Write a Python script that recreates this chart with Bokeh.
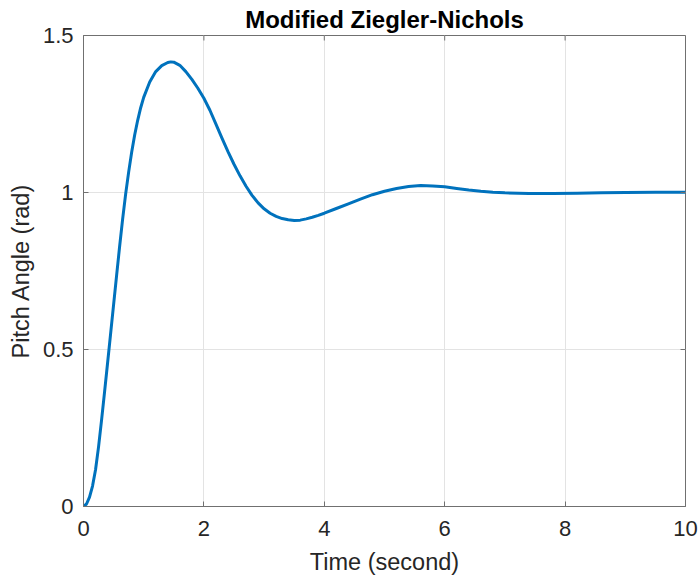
from bokeh.plotting import figure
from bokeh.models import Range1d, FixedTicker, NumeralTickFormatter
from bokeh.embed import file_html
from bokeh.resources import INLINE

# Step response
time_s = [0.00, 0.05, 0.10, 0.15, 0.20, 0.25, 0.30, 0.35, 0.40, 0.45,
          0.50, 0.55, 0.60, 0.65, 0.70, 0.75, 0.80, 0.85, 0.90, 0.95,
          1.00, 1.10, 1.20, 1.30, 1.40, 1.45, 1.50, 1.60, 1.70, 1.80,
          1.90, 2.00, 2.10, 2.20, 2.30, 2.40, 2.50, 2.60, 2.70, 2.80,
          2.90, 3.00, 3.10, 3.20, 3.30, 3.40, 3.50, 3.60, 3.70, 3.80,
          3.90, 4.00, 4.20, 4.40, 4.60, 4.80, 5.00, 5.20, 5.40, 5.60,
          5.80, 6.00, 6.20, 6.40, 6.60, 6.80, 7.00, 7.40, 7.80, 8.20,
          8.60, 9.00, 9.50, 10.0]
pitch_rad = [0.000, 0.008, 0.030, 0.065, 0.117, 0.190, 0.275, 0.365, 0.457, 0.550,
             0.643, 0.736, 0.828, 0.915, 0.995, 1.065, 1.128, 1.183, 1.230, 1.270,
             1.303, 1.352, 1.385, 1.404, 1.414, 1.416, 1.415, 1.405, 1.385, 1.360,
             1.332, 1.300, 1.262, 1.218, 1.173, 1.130, 1.090, 1.053, 1.020, 0.991,
             0.967, 0.948, 0.934, 0.924, 0.917, 0.913, 0.911, 0.912, 0.916, 0.921,
             0.927, 0.934, 0.949, 0.964, 0.979, 0.993, 1.004, 1.013, 1.019, 1.022,
             1.021, 1.018, 1.013, 1.008, 1.004, 1.001, 0.999, 0.997, 0.997, 0.998,
             0.999, 1.000, 1.001, 1.001]

x_ticks = [0, 2, 4, 6, 8, 10]
y_ticks = [0, 0.5, 1, 1.5]
x_lim = (0, 10)
y_lim = (0, 1.5)

FONT = "Liberation Sans"
AX_COL = "#707070"
TXT_COL = "#262626"

W, H = 699, 577
ML, MR, MT, MB = 83, 14, 35, 71
TICK_PX = 5

p = figure(width=W, height=H, output_backend="svg", toolbar_location=None,
           x_range=Range1d(*x_lim), y_range=Range1d(*y_lim),
           title="Modified Ziegler-Nichols",
           min_border_left=ML, min_border_right=MR, min_border_top=MT, min_border_bottom=MB)

p.background_fill_color = "white"
p.border_fill_color = "white"
p.outline_line_color = AX_COL
p.outline_line_width = 1

p.title.align = "center"
p.title.text_font = FONT
p.title.text_font_size = "24px"
p.title.text_font_style = "bold"
p.title.text_color = "black"
p.title.standoff = 6

p.xgrid[0].ticker = FixedTicker(ticks=x_ticks)
p.ygrid[0].ticker = FixedTicker(ticks=y_ticks)
for g in (p.xgrid[0], p.ygrid[0]):
    g.grid_line_color = "#e3e3e3"
    g.grid_line_width = 1

p.line(time_s, pitch_rad, line_color="#0072BD", line_width=3, line_join="round")

for ax, ticks in ((p.xaxis[0], x_ticks), (p.yaxis[0], y_ticks)):
    ax.ticker = FixedTicker(ticks=ticks)
    ax.formatter = NumeralTickFormatter(format="0.[0]")
    ax.major_tick_in = TICK_PX
    ax.major_tick_out = 0
    ax.minor_tick_line_color = None
    ax.axis_line_color = AX_COL
    ax.major_tick_line_color = AX_COL
    ax.major_label_text_font = FONT
    ax.major_label_text_font_size = "22px"
    ax.major_label_text_color = TXT_COL
    ax.axis_label_text_font = FONT
    ax.axis_label_text_font_size = "23.5px"
    ax.axis_label_text_font_style = "normal"
    ax.axis_label_text_color = TXT_COL

p.xaxis[0].axis_label = "Time (second)"
p.yaxis[0].axis_label = "Pitch Angle (rad)"
p.xaxis[0].major_label_standoff = 14
p.yaxis[0].major_label_standoff = 10
p.xaxis[0].axis_label_standoff = 10
p.yaxis[0].axis_label_standoff = 6

# inward box ticks on the top and right edges (MATLAB "box on")
frame_w = W - ML - MR
frame_h = H - MT - MB
dy = TICK_PX * (y_lim[1] - y_lim[0]) / frame_h
dx = TICK_PX * (x_lim[1] - x_lim[0]) / frame_w
p.segment(x0=x_ticks, y0=[y_lim[1]] * len(x_ticks), x1=x_ticks, y1=[y_lim[1] - dy] * len(x_ticks),
          line_color=AX_COL, line_width=1)
p.segment(x0=[x_lim[1]] * len(y_ticks), y0=y_ticks, x1=[x_lim[1] - dx] * len(y_ticks), y1=y_ticks,
          line_color=AX_COL, line_width=1)

open("out.html", "w").write(file_html(p, INLINE))
